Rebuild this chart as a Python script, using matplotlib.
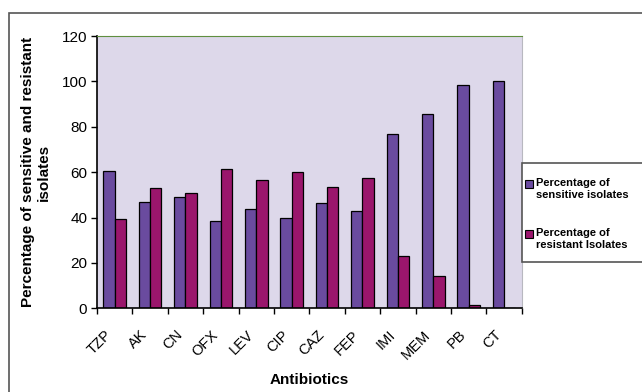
import numpy as np
import matplotlib.pyplot as plt
from matplotlib.patches import Rectangle

plt.rcParams['font.family'] = ['Liberation Sans', 'DejaVu Sans']

antibiotics = ['TZP', 'AK', 'CN', 'OFX', 'LEV', 'CIP', 'CAZ', 'FEP', 'IMI', 'MEM', 'PB', 'CT']
sensitive = [60.5, 47, 49, 38.5, 43.8, 40, 46.5, 43, 77, 85.7, 98.5, 100]
resistant = [39.5, 53, 51, 61.5, 56.5, 60, 53.5, 57.5, 23, 14.3, 1.6, 0]
yticks = [0, 20, 40, 60, 80, 100, 120]
legend_labels = ['Percentage of\nsensitive isolates', 'Percentage of\nresistant Isolates']

c_sens = '#6a4b9f'
c_res = '#9a166c'

W, H = 642, 392
fig = plt.figure(figsize=(W / 100, H / 100), dpi=100)
fig.patch.set_facecolor('white')


def fx(px):
    return px / W


def fy(py):
    return 1 - py / H


# outer chart frame
fig.patches.append(Rectangle((fx(9), -0.05), 1.0, fy(13) + 0.05,
                             transform=fig.transFigure, fill=False,
                             edgecolor='#555555', lw=1.2, zorder=0))

ax = fig.add_axes([fx(97), fy(308.3), fx(521.7 - 97), (308.3 - 36) / H])
ax.set_facecolor('#ddd8ea')

x = np.arange(len(antibiotics))
w = 0.32
ax.bar(x - w / 2, sensitive, w, color=c_sens, edgecolor='black', lw=0.9)
ax.bar(x + w / 2, resistant, w, color=c_res, edgecolor='black', lw=0.9)

ax.set_xlim(-0.5, len(antibiotics) - 0.5)
ax.set_ylim(0, 120)
ax.set_yticks(yticks)
ax.set_yticklabels([str(v) for v in yticks], fontsize=11)
ax.set_xticks(x)
ax.set_xticklabels(antibiotics, rotation=45, ha='right', fontsize=10.5)
ax.tick_params(axis='x', which='major', length=0, pad=14)
ax.set_xticks(np.arange(-0.5, len(antibiotics)), minor=True)
ax.tick_params(axis='x', which='minor', length=4, width=1, direction='out')
ax.tick_params(axis='y', length=4, width=1, direction='out', pad=3)

for s in ['left', 'bottom']:
    ax.spines[s].set_color('black')
    ax.spines[s].set_linewidth(1.2)
ax.spines['top'].set_color('#5f8f3f')
ax.spines['top'].set_linewidth(0.8)
ax.spines['right'].set_color('#b8b8c0')
ax.spines['right'].set_linewidth(0.8)

fig.text(fx(309), fy(380), 'Antibiotics', fontsize=11, fontweight='bold',
         ha='center', va='center')
fig.text(fx(36), fy(172), 'Percentage of sensitive and resistant\nisolates',
         fontsize=11, fontweight='bold', rotation=90, ha='center', va='center',
         linespacing=1.2, multialignment='center')

# legend box drawn by hand so the swatch sits on the first text line
fig.patches.append(Rectangle((fx(522), fy(262)), fx(130), (262 - 163) / H,
                             transform=fig.transFigure, facecolor='white',
                             edgecolor='#555555', lw=1.2, zorder=3))
for i, (lab, col) in enumerate(zip(legend_labels, [c_sens, c_res])):
    top = 180 + i * 50
    fig.patches.append(Rectangle((fx(525), fy(top + 8)), fx(8), 8 / H,
                                 transform=fig.transFigure, facecolor=col,
                                 edgecolor='black', lw=0.8, zorder=4))
    fig.text(fx(536), fy(top - 2), lab, fontsize=8, fontweight='bold',
             va='top', ha='left', linespacing=1.3, zorder=5)

fig.savefig('out.png', dpi=100)
